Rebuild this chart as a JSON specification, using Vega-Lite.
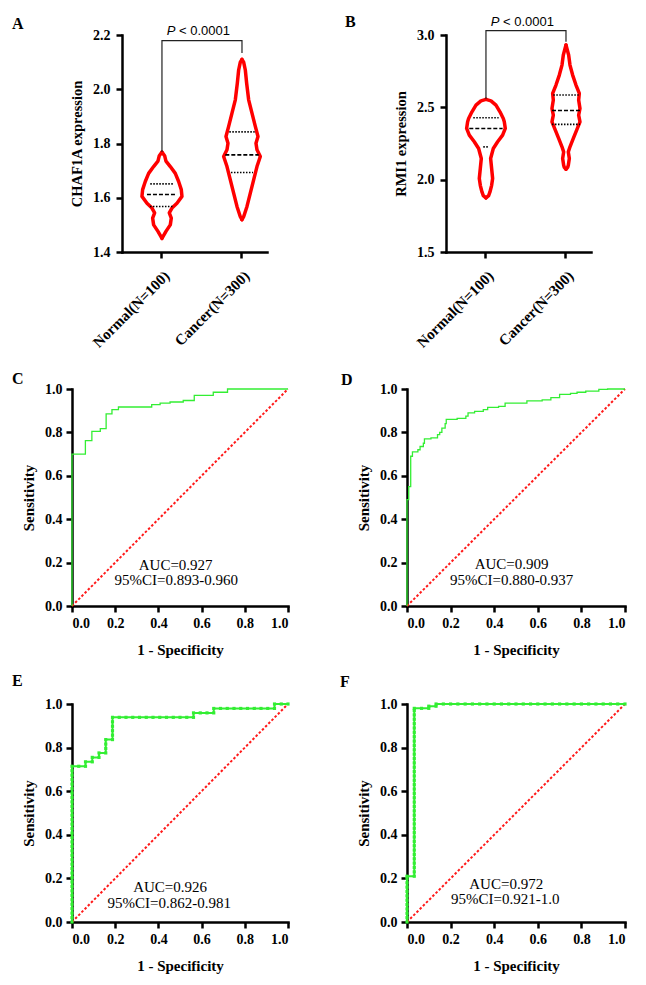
{
  "$schema": "https://vega.github.io/schema/vega-lite/v6.json",
  "background": "white",
  "padding": {"left": 12, "top": 14, "right": 5, "bottom": 5},
  "datasets": {
    "violin": [
      {"p": "A", "g": "Normal(N=100)", "v": 1.450, "l": 0, "r": 0},
      {"p": "A", "g": "Normal(N=100)", "v": 1.476, "l": -12, "r": 12},
      {"p": "A", "g": "Normal(N=100)", "v": 1.500, "l": -25, "r": 25},
      {"p": "A", "g": "Normal(N=100)", "v": 1.525, "l": -28, "r": 28},
      {"p": "A", "g": "Normal(N=100)", "v": 1.544, "l": -22, "r": 22},
      {"p": "A", "g": "Normal(N=100)", "v": 1.562, "l": -30, "r": 30},
      {"p": "A", "g": "Normal(N=100)", "v": 1.580, "l": -45, "r": 45},
      {"p": "A", "g": "Normal(N=100)", "v": 1.605, "l": -60, "r": 60},
      {"p": "A", "g": "Normal(N=100)", "v": 1.630, "l": -58, "r": 58},
      {"p": "A", "g": "Normal(N=100)", "v": 1.660, "l": -50, "r": 50},
      {"p": "A", "g": "Normal(N=100)", "v": 1.690, "l": -40, "r": 40},
      {"p": "A", "g": "Normal(N=100)", "v": 1.715, "l": -25, "r": 25},
      {"p": "A", "g": "Normal(N=100)", "v": 1.735, "l": -12, "r": 12},
      {"p": "A", "g": "Normal(N=100)", "v": 1.755, "l": -8, "r": 8},
      {"p": "A", "g": "Normal(N=100)", "v": 1.768, "l": 0, "r": 0},
      {"p": "A", "g": "Cancer(N=300)", "v": 1.519, "l": 0, "r": 0},
      {"p": "A", "g": "Cancer(N=300)", "v": 1.530, "l": -5, "r": 5},
      {"p": "A", "g": "Cancer(N=300)", "v": 1.568, "l": -15, "r": 15},
      {"p": "A", "g": "Cancer(N=300)", "v": 1.617, "l": -25, "r": 25},
      {"p": "A", "g": "Cancer(N=300)", "v": 1.666, "l": -35, "r": 35},
      {"p": "A", "g": "Cancer(N=300)", "v": 1.715, "l": -45, "r": 45},
      {"p": "A", "g": "Cancer(N=300)", "v": 1.752, "l": -55, "r": 55},
      {"p": "A", "g": "Cancer(N=300)", "v": 1.777, "l": -45, "r": 45},
      {"p": "A", "g": "Cancer(N=300)", "v": 1.801, "l": -42, "r": 42},
      {"p": "A", "g": "Cancer(N=300)", "v": 1.826, "l": -48, "r": 48},
      {"p": "A", "g": "Cancer(N=300)", "v": 1.863, "l": -40, "r": 40},
      {"p": "A", "g": "Cancer(N=300)", "v": 1.912, "l": -30, "r": 30},
      {"p": "A", "g": "Cancer(N=300)", "v": 1.961, "l": -20, "r": 20},
      {"p": "A", "g": "Cancer(N=300)", "v": 2.022, "l": -14, "r": 14},
      {"p": "A", "g": "Cancer(N=300)", "v": 2.071, "l": -10, "r": 10},
      {"p": "A", "g": "Cancer(N=300)", "v": 2.100, "l": -5, "r": 5},
      {"p": "A", "g": "Cancer(N=300)", "v": 2.110, "l": 0, "r": 0},
      {"p": "B", "g": "Normal(N=100)", "v": 1.874, "l": 0, "r": 0},
      {"p": "B", "g": "Normal(N=100)", "v": 1.890, "l": -8, "r": 8},
      {"p": "B", "g": "Normal(N=100)", "v": 1.915, "l": -12, "r": 12},
      {"p": "B", "g": "Normal(N=100)", "v": 1.961, "l": -17, "r": 17},
      {"p": "B", "g": "Normal(N=100)", "v": 2.008, "l": -20, "r": 20},
      {"p": "B", "g": "Normal(N=100)", "v": 2.077, "l": -17, "r": 17},
      {"p": "B", "g": "Normal(N=100)", "v": 2.146, "l": -14, "r": 14},
      {"p": "B", "g": "Normal(N=100)", "v": 2.215, "l": -22, "r": 22},
      {"p": "B", "g": "Normal(N=100)", "v": 2.262, "l": -35, "r": 35},
      {"p": "B", "g": "Normal(N=100)", "v": 2.308, "l": -50, "r": 50},
      {"p": "B", "g": "Normal(N=100)", "v": 2.354, "l": -58, "r": 58},
      {"p": "B", "g": "Normal(N=100)", "v": 2.400, "l": -55, "r": 55},
      {"p": "B", "g": "Normal(N=100)", "v": 2.423, "l": -52, "r": 52},
      {"p": "B", "g": "Normal(N=100)", "v": 2.469, "l": -42, "r": 42},
      {"p": "B", "g": "Normal(N=100)", "v": 2.515, "l": -30, "r": 30},
      {"p": "B", "g": "Normal(N=100)", "v": 2.545, "l": -15, "r": 15},
      {"p": "B", "g": "Normal(N=100)", "v": 2.555, "l": 0, "r": 0},
      {"p": "B", "g": "Cancer(N=300)", "v": 2.072, "l": 0, "r": 0},
      {"p": "B", "g": "Cancer(N=300)", "v": 2.085, "l": -5, "r": 5},
      {"p": "B", "g": "Cancer(N=300)", "v": 2.100, "l": -7, "r": 7},
      {"p": "B", "g": "Cancer(N=300)", "v": 2.146, "l": -10, "r": 10},
      {"p": "B", "g": "Cancer(N=300)", "v": 2.192, "l": -7, "r": 7},
      {"p": "B", "g": "Cancer(N=300)", "v": 2.227, "l": -12, "r": 12},
      {"p": "B", "g": "Cancer(N=300)", "v": 2.285, "l": -22, "r": 22},
      {"p": "B", "g": "Cancer(N=300)", "v": 2.342, "l": -32, "r": 32},
      {"p": "B", "g": "Cancer(N=300)", "v": 2.400, "l": -42, "r": 42},
      {"p": "B", "g": "Cancer(N=300)", "v": 2.446, "l": -38, "r": 38},
      {"p": "B", "g": "Cancer(N=300)", "v": 2.492, "l": -42, "r": 42},
      {"p": "B", "g": "Cancer(N=300)", "v": 2.550, "l": -38, "r": 38},
      {"p": "B", "g": "Cancer(N=300)", "v": 2.596, "l": -40, "r": 40},
      {"p": "B", "g": "Cancer(N=300)", "v": 2.654, "l": -30, "r": 30},
      {"p": "B", "g": "Cancer(N=300)", "v": 2.723, "l": -20, "r": 20},
      {"p": "B", "g": "Cancer(N=300)", "v": 2.792, "l": -12, "r": 12},
      {"p": "B", "g": "Cancer(N=300)", "v": 2.862, "l": -8, "r": 8},
      {"p": "B", "g": "Cancer(N=300)", "v": 2.931, "l": 0, "r": 0}
    ],
    "quart": [
      {"p": "A", "g": "Normal(N=100)", "q": "q3", "v": 1.651, "l": -35, "r": 35},
      {"p": "A", "g": "Normal(N=100)", "q": "med", "v": 1.612, "l": -45, "r": 45},
      {"p": "A", "g": "Normal(N=100)", "q": "q1", "v": 1.568, "l": -36, "r": 36},
      {"p": "A", "g": "Cancer(N=300)", "q": "q3", "v": 1.843, "l": -38, "r": 38},
      {"p": "A", "g": "Cancer(N=300)", "q": "med", "v": 1.758, "l": -50, "r": 50},
      {"p": "A", "g": "Cancer(N=300)", "q": "q1", "v": 1.693, "l": -33, "r": 33},
      {"p": "B", "g": "Normal(N=100)", "q": "q3", "v": 2.428, "l": -38, "r": 38},
      {"p": "B", "g": "Normal(N=100)", "q": "med", "v": 2.354, "l": -50, "r": 50},
      {"p": "B", "g": "Normal(N=100)", "q": "q1", "v": 2.227, "l": -8, "r": 8},
      {"p": "B", "g": "Cancer(N=300)", "q": "q3", "v": 2.585, "l": -38, "r": 38},
      {"p": "B", "g": "Cancer(N=300)", "q": "med", "v": 2.478, "l": -42, "r": 42},
      {"p": "B", "g": "Cancer(N=300)", "q": "q1", "v": 2.382, "l": -42, "r": 42}
    ],
    "bracket": [
      {"p": "A", "g": "Normal(N=100)", "v": 1.769, "o": 1},
      {"p": "A", "g": "Normal(N=100)", "v": 2.179, "o": 2},
      {"p": "A", "g": "Cancer(N=300)", "v": 2.179, "o": 3},
      {"p": "A", "g": "Cancer(N=300)", "v": 2.134, "o": 4},
      {"p": "B", "g": "Normal(N=100)", "v": 2.557, "o": 1},
      {"p": "B", "g": "Normal(N=100)", "v": 3.030, "o": 2},
      {"p": "B", "g": "Cancer(N=300)", "v": 3.030, "o": 3},
      {"p": "B", "g": "Cancer(N=300)", "v": 2.954, "o": 4}
    ],
    "ptext": [
      {"p": "A", "g": "Normal(N=100)", "v": 2.2, "t1": "P", "t2": "< 0.0001"},
      {"p": "B", "g": "Normal(N=100)", "v": 3.062, "t1": "P", "t2": "< 0.0001"}
    ],
    "diag": [
      {"x": 0, "y": 0},
      {"x": 1, "y": 1}
    ],
    "auc": [
      {"p": "C", "x": 0.48, "y": 0.166, "t": "AUC=0.927"},
      {"p": "C", "x": 0.483, "y": 0.097, "t": "95%CI=0.893-0.960"},
      {"p": "D", "x": 0.48, "y": 0.169, "t": "AUC=0.909"},
      {"p": "D", "x": 0.48, "y": 0.097, "t": "95%CI=0.880-0.937"},
      {"p": "E", "x": 0.454, "y": 0.138, "t": "AUC=0.926"},
      {"p": "E", "x": 0.45, "y": 0.066, "t": "95%CI=0.862-0.981"},
      {"p": "F", "x": 0.455, "y": 0.153, "t": "AUC=0.972"},
      {"p": "F", "x": 0.451, "y": 0.081, "t": "95%CI=0.921-1.0"}
    ],
    "roc": [
      {"p": "C", "x": 0, "y": 0},
      {"p": "C", "x": 0, "y": 0.70},
      {"p": "C", "x": 0.062, "y": 0.762},
      {"p": "C", "x": 0.092, "y": 0.805},
      {"p": "C", "x": 0.131, "y": 0.817},
      {"p": "C", "x": 0.158, "y": 0.885},
      {"p": "C", "x": 0.185, "y": 0.905},
      {"p": "C", "x": 0.215, "y": 0.917},
      {"p": "C", "x": 0.369, "y": 0.928},
      {"p": "C", "x": 0.408, "y": 0.935},
      {"p": "C", "x": 0.454, "y": 0.940},
      {"p": "C", "x": 0.515, "y": 0.947},
      {"p": "C", "x": 0.566, "y": 0.971},
      {"p": "C", "x": 0.654, "y": 0.985},
      {"p": "C", "x": 0.72, "y": 1.0},
      {"p": "C", "x": 1.0, "y": 1.0},
      {"p": "D", "x": 0, "y": 0},
      {"p": "D", "x": 0, "y": 0.49},
      {"p": "D", "x": 0.008, "y": 0.55},
      {"p": "D", "x": 0.017, "y": 0.69},
      {"p": "D", "x": 0.025, "y": 0.71},
      {"p": "D", "x": 0.05, "y": 0.72},
      {"p": "D", "x": 0.06, "y": 0.735},
      {"p": "D", "x": 0.075, "y": 0.75},
      {"p": "D", "x": 0.08, "y": 0.77},
      {"p": "D", "x": 0.11, "y": 0.775},
      {"p": "D", "x": 0.14, "y": 0.79},
      {"p": "D", "x": 0.15, "y": 0.80},
      {"p": "D", "x": 0.16, "y": 0.82},
      {"p": "D", "x": 0.175, "y": 0.84},
      {"p": "D", "x": 0.18, "y": 0.86},
      {"p": "D", "x": 0.23, "y": 0.865},
      {"p": "D", "x": 0.27, "y": 0.875},
      {"p": "D", "x": 0.28, "y": 0.89},
      {"p": "D", "x": 0.31, "y": 0.897},
      {"p": "D", "x": 0.35, "y": 0.905},
      {"p": "D", "x": 0.37, "y": 0.915},
      {"p": "D", "x": 0.42, "y": 0.92},
      {"p": "D", "x": 0.45, "y": 0.935},
      {"p": "D", "x": 0.55, "y": 0.945},
      {"p": "D", "x": 0.62, "y": 0.95},
      {"p": "D", "x": 0.66, "y": 0.96},
      {"p": "D", "x": 0.70, "y": 0.975},
      {"p": "D", "x": 0.75, "y": 0.98},
      {"p": "D", "x": 0.78, "y": 0.985},
      {"p": "D", "x": 0.82, "y": 0.99},
      {"p": "D", "x": 0.88, "y": 0.998},
      {"p": "D", "x": 0.92, "y": 1.0},
      {"p": "D", "x": 1.0, "y": 1.0},
      {"p": "E", "x": 0, "y": 0},
      {"p": "E", "x": 0, "y": 0.0204},
      {"p": "E", "x": 0, "y": 0.0408},
      {"p": "E", "x": 0, "y": 0.0612},
      {"p": "E", "x": 0, "y": 0.0816},
      {"p": "E", "x": 0, "y": 0.102},
      {"p": "E", "x": 0, "y": 0.1224},
      {"p": "E", "x": 0, "y": 0.1429},
      {"p": "E", "x": 0, "y": 0.1633},
      {"p": "E", "x": 0, "y": 0.1837},
      {"p": "E", "x": 0, "y": 0.2041},
      {"p": "E", "x": 0, "y": 0.2245},
      {"p": "E", "x": 0, "y": 0.2449},
      {"p": "E", "x": 0, "y": 0.2653},
      {"p": "E", "x": 0, "y": 0.2857},
      {"p": "E", "x": 0, "y": 0.3061},
      {"p": "E", "x": 0, "y": 0.3265},
      {"p": "E", "x": 0, "y": 0.3469},
      {"p": "E", "x": 0, "y": 0.3673},
      {"p": "E", "x": 0, "y": 0.3878},
      {"p": "E", "x": 0, "y": 0.4082},
      {"p": "E", "x": 0, "y": 0.4286},
      {"p": "E", "x": 0, "y": 0.449},
      {"p": "E", "x": 0, "y": 0.4694},
      {"p": "E", "x": 0, "y": 0.4898},
      {"p": "E", "x": 0, "y": 0.5102},
      {"p": "E", "x": 0, "y": 0.5306},
      {"p": "E", "x": 0, "y": 0.551},
      {"p": "E", "x": 0, "y": 0.5714},
      {"p": "E", "x": 0, "y": 0.5918},
      {"p": "E", "x": 0, "y": 0.6122},
      {"p": "E", "x": 0, "y": 0.6327},
      {"p": "E", "x": 0, "y": 0.6531},
      {"p": "E", "x": 0, "y": 0.6735},
      {"p": "E", "x": 0, "y": 0.6939},
      {"p": "E", "x": 0, "y": 0.7143},
      {"p": "E", "x": 0.0313, "y": 0.7143},
      {"p": "E", "x": 0.0625, "y": 0.7143},
      {"p": "E", "x": 0.0625, "y": 0.7347},
      {"p": "E", "x": 0.0938, "y": 0.7347},
      {"p": "E", "x": 0.0938, "y": 0.7551},
      {"p": "E", "x": 0.125, "y": 0.7551},
      {"p": "E", "x": 0.125, "y": 0.7755},
      {"p": "E", "x": 0.1563, "y": 0.7755},
      {"p": "E", "x": 0.1563, "y": 0.7959},
      {"p": "E", "x": 0.1563, "y": 0.8163},
      {"p": "E", "x": 0.1563, "y": 0.8367},
      {"p": "E", "x": 0.1875, "y": 0.8367},
      {"p": "E", "x": 0.1875, "y": 0.8571},
      {"p": "E", "x": 0.1875, "y": 0.8776},
      {"p": "E", "x": 0.1875, "y": 0.898},
      {"p": "E", "x": 0.1875, "y": 0.9184},
      {"p": "E", "x": 0.1875, "y": 0.9388},
      {"p": "E", "x": 0.2188, "y": 0.9388},
      {"p": "E", "x": 0.25, "y": 0.9388},
      {"p": "E", "x": 0.2813, "y": 0.9388},
      {"p": "E", "x": 0.3125, "y": 0.9388},
      {"p": "E", "x": 0.3438, "y": 0.9388},
      {"p": "E", "x": 0.375, "y": 0.9388},
      {"p": "E", "x": 0.4063, "y": 0.9388},
      {"p": "E", "x": 0.4375, "y": 0.9388},
      {"p": "E", "x": 0.4688, "y": 0.9388},
      {"p": "E", "x": 0.5, "y": 0.9388},
      {"p": "E", "x": 0.5313, "y": 0.9388},
      {"p": "E", "x": 0.5625, "y": 0.9388},
      {"p": "E", "x": 0.5625, "y": 0.9592},
      {"p": "E", "x": 0.5938, "y": 0.9592},
      {"p": "E", "x": 0.625, "y": 0.9592},
      {"p": "E", "x": 0.6563, "y": 0.9592},
      {"p": "E", "x": 0.6563, "y": 0.9796},
      {"p": "E", "x": 0.6875, "y": 0.9796},
      {"p": "E", "x": 0.7188, "y": 0.9796},
      {"p": "E", "x": 0.75, "y": 0.9796},
      {"p": "E", "x": 0.7813, "y": 0.9796},
      {"p": "E", "x": 0.8125, "y": 0.9796},
      {"p": "E", "x": 0.8438, "y": 0.9796},
      {"p": "E", "x": 0.875, "y": 0.9796},
      {"p": "E", "x": 0.9063, "y": 0.9796},
      {"p": "E", "x": 0.9375, "y": 0.9796},
      {"p": "E", "x": 0.9375, "y": 1.0},
      {"p": "E", "x": 0.9688, "y": 1.0},
      {"p": "E", "x": 1.0, "y": 1.0},
      {"p": "F", "x": 0, "y": 0},
      {"p": "F", "x": 0, "y": 0.02},
      {"p": "F", "x": 0, "y": 0.04},
      {"p": "F", "x": 0, "y": 0.06},
      {"p": "F", "x": 0, "y": 0.08},
      {"p": "F", "x": 0, "y": 0.10},
      {"p": "F", "x": 0, "y": 0.12},
      {"p": "F", "x": 0, "y": 0.14},
      {"p": "F", "x": 0, "y": 0.16},
      {"p": "F", "x": 0, "y": 0.18},
      {"p": "F", "x": 0, "y": 0.20},
      {"p": "F", "x": 0, "y": 0.21},
      {"p": "F", "x": 0.0333, "y": 0.21},
      {"p": "F", "x": 0.0333, "y": 0.23},
      {"p": "F", "x": 0.0333, "y": 0.25},
      {"p": "F", "x": 0.0333, "y": 0.27},
      {"p": "F", "x": 0.0333, "y": 0.29},
      {"p": "F", "x": 0.0333, "y": 0.31},
      {"p": "F", "x": 0.0333, "y": 0.33},
      {"p": "F", "x": 0.0333, "y": 0.35},
      {"p": "F", "x": 0.0333, "y": 0.37},
      {"p": "F", "x": 0.0333, "y": 0.39},
      {"p": "F", "x": 0.0333, "y": 0.41},
      {"p": "F", "x": 0.0333, "y": 0.43},
      {"p": "F", "x": 0.0333, "y": 0.45},
      {"p": "F", "x": 0.0333, "y": 0.47},
      {"p": "F", "x": 0.0333, "y": 0.49},
      {"p": "F", "x": 0.0333, "y": 0.51},
      {"p": "F", "x": 0.0333, "y": 0.53},
      {"p": "F", "x": 0.0333, "y": 0.55},
      {"p": "F", "x": 0.0333, "y": 0.57},
      {"p": "F", "x": 0.0333, "y": 0.59},
      {"p": "F", "x": 0.0333, "y": 0.61},
      {"p": "F", "x": 0.0333, "y": 0.63},
      {"p": "F", "x": 0.0333, "y": 0.65},
      {"p": "F", "x": 0.0333, "y": 0.67},
      {"p": "F", "x": 0.0333, "y": 0.69},
      {"p": "F", "x": 0.0333, "y": 0.71},
      {"p": "F", "x": 0.0333, "y": 0.73},
      {"p": "F", "x": 0.0333, "y": 0.75},
      {"p": "F", "x": 0.0333, "y": 0.77},
      {"p": "F", "x": 0.0333, "y": 0.79},
      {"p": "F", "x": 0.0333, "y": 0.81},
      {"p": "F", "x": 0.0333, "y": 0.83},
      {"p": "F", "x": 0.0333, "y": 0.85},
      {"p": "F", "x": 0.0333, "y": 0.87},
      {"p": "F", "x": 0.0333, "y": 0.89},
      {"p": "F", "x": 0.0333, "y": 0.91},
      {"p": "F", "x": 0.0333, "y": 0.93},
      {"p": "F", "x": 0.0333, "y": 0.95},
      {"p": "F", "x": 0.0333, "y": 0.97},
      {"p": "F", "x": 0.0333, "y": 0.98},
      {"p": "F", "x": 0.0667, "y": 0.98},
      {"p": "F", "x": 0.1, "y": 0.98},
      {"p": "F", "x": 0.1, "y": 0.99},
      {"p": "F", "x": 0.1333, "y": 0.99},
      {"p": "F", "x": 0.1333, "y": 1.0},
      {"p": "F", "x": 0.1667, "y": 1.0},
      {"p": "F", "x": 0.2, "y": 1.0},
      {"p": "F", "x": 0.2333, "y": 1.0},
      {"p": "F", "x": 0.2667, "y": 1.0},
      {"p": "F", "x": 0.3, "y": 1.0},
      {"p": "F", "x": 0.3333, "y": 1.0},
      {"p": "F", "x": 0.3667, "y": 1.0},
      {"p": "F", "x": 0.4, "y": 1.0},
      {"p": "F", "x": 0.4333, "y": 1.0},
      {"p": "F", "x": 0.4667, "y": 1.0},
      {"p": "F", "x": 0.5, "y": 1.0},
      {"p": "F", "x": 0.5333, "y": 1.0},
      {"p": "F", "x": 0.5667, "y": 1.0},
      {"p": "F", "x": 0.6, "y": 1.0},
      {"p": "F", "x": 0.6333, "y": 1.0},
      {"p": "F", "x": 0.6667, "y": 1.0},
      {"p": "F", "x": 0.7, "y": 1.0},
      {"p": "F", "x": 0.7333, "y": 1.0},
      {"p": "F", "x": 0.7667, "y": 1.0},
      {"p": "F", "x": 0.8, "y": 1.0},
      {"p": "F", "x": 0.8333, "y": 1.0},
      {"p": "F", "x": 0.8667, "y": 1.0},
      {"p": "F", "x": 0.9, "y": 1.0},
      {"p": "F", "x": 0.9333, "y": 1.0},
      {"p": "F", "x": 0.9667, "y": 1.0},
      {"p": "F", "x": 1.0, "y": 1.0}
    ]
  },
  "spacing": 20,
  "bounds": "full",
  "vconcat": [
    {
      "spacing": 0,
      "bounds": "flush",
      "hconcat": [
        {"width": 50, "height": 1, "data": {"values": []}, "mark": "point"},
        {
          "spacing": 179,
          "bounds": "flush",
          "hconcat": [
            {
              "width": 145,
              "height": 217,
              "title": {"text": "A", "dx": -110, "offset": -7},
              "layer": [
                {
                  "data": {"name": "violin"},
                  "transform": [{"filter": "datum.p == 'A'"}, {"fold": ["l", "r"], "as": ["side", "off"]}],
                  "mark": {"type": "line", "color": "#ff0000", "strokeWidth": 3.5, "strokeJoin": "round", "strokeCap": "round"},
                  "encoding": {
                    "x": {"field": "g", "type": "nominal", "scale": {"type": "band", "domain": ["Normal(N=100)", "Cancer(N=300)"], "paddingInner": 1, "paddingOuter": 0.406, "align": 0.615}, "axis": {"title": null, "labelAngle": -45, "labelFontSize": 15, "labelPadding": 10}},
                    "y": {"field": "v", "type": "quantitative", "scale": {"domain": [1.4, 2.2], "nice": false, "zero": false}, "axis": {"title": "CHAF1A expression", "titleFontSize": 14.5, "values": [1.4, 1.6, 1.8, 2.0, 2.2], "format": ".1f", "labelPadding": 6, "titlePadding": 8}},
                    "xOffset": {"field": "off", "type": "quantitative", "scale": {"domain": [-60, 60], "range": [-20, 20]}},
                    "detail": [{"field": "g"}, {"field": "side"}],
                    "order": {"field": "v", "type": "quantitative"}
                  }
                },
                {
                  "data": {"name": "quart"},
                  "transform": [{"filter": "datum.p == 'A'"}, {"fold": ["l", "r"], "as": ["side", "off"]}],
                  "mark": {"type": "line", "color": "#000000", "strokeWidth": 1.6},
                  "encoding": {
                    "x": {"field": "g", "type": "nominal"},
                    "y": {"field": "v", "type": "quantitative"},
                    "xOffset": {"field": "off", "type": "quantitative", "scale": {"domain": [-60, 60], "range": [-20, 20]}},
                    "strokeDash": {"field": "q", "type": "nominal", "scale": {"domain": ["q1", "med", "q3"], "range": [[1.5, 1.5], [4, 2], [1.5, 1.5]]}, "legend": null},
                    "detail": [{"field": "g"}, {"field": "q"}],
                    "order": {"field": "off", "type": "quantitative"}
                  }
                },
                {
                  "data": {"name": "bracket"},
                  "transform": [{"filter": "datum.p == 'A'"}],
                  "mark": {"type": "line", "color": "#222222", "strokeWidth": 1.2},
                  "encoding": {
                    "x": {"field": "g", "type": "nominal"},
                    "y": {"field": "v", "type": "quantitative"},
                    "order": {"field": "o", "type": "quantitative"}
                  }
                },
                {
                  "data": {"name": "ptext"},
                  "transform": [{"filter": "datum.p == 'A'"}],
                  "mark": {"type": "text", "font": "Liberation Sans", "fontStyle": "italic", "fontSize": 13, "dx": 9, "align": "center", "baseline": "alphabetic"},
                  "encoding": {"x": {"field": "g", "type": "nominal"}, "y": {"field": "v", "type": "quantitative"}, "text": {"field": "t1"}}
                },
                {
                  "data": {"name": "ptext"},
                  "transform": [{"filter": "datum.p == 'A'"}],
                  "mark": {"type": "text", "font": "Liberation Sans", "fontSize": 13, "dx": 17, "align": "left", "baseline": "alphabetic"},
                  "encoding": {"x": {"field": "g", "type": "nominal"}, "y": {"field": "v", "type": "quantitative"}, "text": {"field": "t2"}}
                }
              ]
            },
            {
              "width": 145,
              "height": 217,
              "title": {"text": "B", "dx": -101, "offset": -14},
              "layer": [
                {
                  "data": {"name": "violin"},
                  "transform": [{"filter": "datum.p == 'B'"}, {"fold": ["l", "r"], "as": ["side", "off"]}],
                  "mark": {"type": "line", "color": "#ff0000", "strokeWidth": 3.5, "strokeJoin": "round", "strokeCap": "round"},
                  "encoding": {
                    "x": {"field": "g", "type": "nominal", "scale": {"type": "band", "domain": ["Normal(N=100)", "Cancer(N=300)"], "paddingInner": 1, "paddingOuter": 0.406, "align": 0.615}, "axis": {"title": null, "labelAngle": -45, "labelFontSize": 15, "labelPadding": 10}},
                    "y": {"field": "v", "type": "quantitative", "scale": {"domain": [1.5, 3.0], "nice": false, "zero": false}, "axis": {"title": "RMI1 expression", "titleFontSize": 14.5, "values": [1.5, 2.0, 2.5, 3.0], "format": ".1f", "labelPadding": 6, "titlePadding": 8}},
                    "xOffset": {"field": "off", "type": "quantitative", "scale": {"domain": [-60, 60], "range": [-20, 20]}},
                    "detail": [{"field": "g"}, {"field": "side"}],
                    "order": {"field": "v", "type": "quantitative"}
                  }
                },
                {
                  "data": {"name": "quart"},
                  "transform": [{"filter": "datum.p == 'B'"}, {"fold": ["l", "r"], "as": ["side", "off"]}],
                  "mark": {"type": "line", "color": "#000000", "strokeWidth": 1.6},
                  "encoding": {
                    "x": {"field": "g", "type": "nominal"},
                    "y": {"field": "v", "type": "quantitative"},
                    "xOffset": {"field": "off", "type": "quantitative", "scale": {"domain": [-60, 60], "range": [-20, 20]}},
                    "strokeDash": {"field": "q", "type": "nominal", "scale": {"domain": ["q1", "med", "q3"], "range": [[1.5, 1.5], [4, 2], [1.5, 1.5]]}, "legend": null},
                    "detail": [{"field": "g"}, {"field": "q"}],
                    "order": {"field": "off", "type": "quantitative"}
                  }
                },
                {
                  "data": {"name": "bracket"},
                  "transform": [{"filter": "datum.p == 'B'"}],
                  "mark": {"type": "line", "color": "#222222", "strokeWidth": 1.2},
                  "encoding": {
                    "x": {"field": "g", "type": "nominal"},
                    "y": {"field": "v", "type": "quantitative"},
                    "order": {"field": "o", "type": "quantitative"}
                  }
                },
                {
                  "data": {"name": "ptext"},
                  "transform": [{"filter": "datum.p == 'B'"}],
                  "mark": {"type": "text", "font": "Liberation Sans", "fontStyle": "italic", "fontSize": 13, "dx": 9, "align": "center", "baseline": "alphabetic"},
                  "encoding": {"x": {"field": "g", "type": "nominal"}, "y": {"field": "v", "type": "quantitative"}, "text": {"field": "t1"}}
                },
                {
                  "data": {"name": "ptext"},
                  "transform": [{"filter": "datum.p == 'B'"}],
                  "mark": {"type": "text", "font": "Liberation Sans", "fontSize": 13, "dx": 17, "align": "left", "baseline": "alphabetic"},
                  "encoding": {"x": {"field": "g", "type": "nominal"}, "y": {"field": "v", "type": "quantitative"}, "text": {"field": "t2"}}
                }
              ]
            }
          ]
        }
      ]
    },
    {
      "spacing": 16,
      "bounds": "full",
      "vconcat": [
        {
          "spacing": 119,
          "bounds": "flush",
          "hconcat": [
            {
              "width": 216,
              "height": 217,
              "title": {"text": "C", "dx": -60, "offset": -5},
              "layer": [
                {
                  "data": {"name": "diag"},
                  "mark": {"type": "line", "color": "#ff1a1a", "strokeWidth": 2, "strokeDash": [2.5, 2]},
                  "encoding": {
                    "x": {"field": "x", "type": "quantitative", "scale": {"domain": [0, 1], "nice": false}, "axis": {"title": "1 - Specificity", "values": [0, 0.2, 0.4, 0.6, 0.8, 1.0], "format": ".1f", "titlePadding": 12}},
                    "y": {"field": "y", "type": "quantitative", "scale": {"domain": [0, 1], "nice": false}, "axis": {"title": "Sensitivity", "values": [0, 0.2, 0.4, 0.6, 0.8, 1.0], "format": ".1f", "titlePadding": 8}}
                  }
                },
                {
                  "data": {"name": "roc"},
                  "transform": [{"filter": "datum.p == 'C'"}],
                  "mark": {"type": "line", "color": "#33ee33", "strokeWidth": 1.3, "interpolate": "step-after"},
                  "encoding": {
                    "x": {"field": "x", "type": "quantitative"},
                    "y": {"field": "y", "type": "quantitative"},
                    "order": [{"field": "x", "type": "quantitative"}, {"field": "y", "type": "quantitative"}]
                  }
                },
                {
                  "data": {"name": "auc"},
                  "transform": [{"filter": "datum.p == 'C'"}],
                  "mark": {"type": "text", "font": "Liberation Serif", "fontSize": 15, "align": "center", "baseline": "alphabetic", "color": "#000000"},
                  "encoding": {"x": {"field": "x", "type": "quantitative"}, "y": {"field": "y", "type": "quantitative"}, "text": {"field": "t"}}
                }
              ]
            },
            {
              "width": 218,
              "height": 217,
              "title": {"text": "D", "dx": -66, "offset": -5.5},
              "layer": [
                {
                  "data": {"name": "diag"},
                  "mark": {"type": "line", "color": "#ff1a1a", "strokeWidth": 2, "strokeDash": [2.5, 2]},
                  "encoding": {
                    "x": {"field": "x", "type": "quantitative", "scale": {"domain": [0, 1], "nice": false}, "axis": {"title": "1 - Specificity", "values": [0, 0.2, 0.4, 0.6, 0.8, 1.0], "format": ".1f", "titlePadding": 12}},
                    "y": {"field": "y", "type": "quantitative", "scale": {"domain": [0, 1], "nice": false}, "axis": {"title": "Sensitivity", "values": [0, 0.2, 0.4, 0.6, 0.8, 1.0], "format": ".1f", "titlePadding": 8}}
                  }
                },
                {
                  "data": {"name": "roc"},
                  "transform": [{"filter": "datum.p == 'D'"}],
                  "mark": {"type": "line", "color": "#33ee33", "strokeWidth": 1.3, "interpolate": "step-after"},
                  "encoding": {
                    "x": {"field": "x", "type": "quantitative"},
                    "y": {"field": "y", "type": "quantitative"},
                    "order": [{"field": "x", "type": "quantitative"}, {"field": "y", "type": "quantitative"}]
                  }
                },
                {
                  "data": {"name": "auc"},
                  "transform": [{"filter": "datum.p == 'D'"}],
                  "mark": {"type": "text", "font": "Liberation Serif", "fontSize": 15, "align": "center", "baseline": "alphabetic", "color": "#000000"},
                  "encoding": {"x": {"field": "x", "type": "quantitative"}, "y": {"field": "y", "type": "quantitative"}, "text": {"field": "t"}}
                }
              ]
            }
          ]
        },
        {
          "spacing": 119,
          "bounds": "flush",
          "hconcat": [
            {
              "width": 216,
              "height": 218,
              "title": {"text": "E", "dx": -60, "offset": 8},
              "layer": [
                {
                  "data": {"name": "diag"},
                  "mark": {"type": "line", "color": "#ff1a1a", "strokeWidth": 2, "strokeDash": [2.5, 2]},
                  "encoding": {
                    "x": {"field": "x", "type": "quantitative", "scale": {"domain": [0, 1], "nice": false}, "axis": {"title": "1 - Specificity", "values": [0, 0.2, 0.4, 0.6, 0.8, 1.0], "format": ".1f", "titlePadding": 12}},
                    "y": {"field": "y", "type": "quantitative", "scale": {"domain": [0, 1], "nice": false}, "axis": {"title": "Sensitivity", "values": [0, 0.2, 0.4, 0.6, 0.8, 1.0], "format": ".1f", "titlePadding": 8}}
                  }
                },
                {
                  "data": {"name": "roc"},
                  "transform": [{"filter": "datum.p == 'E'"}],
                  "mark": {"type": "line", "color": "#33ee33", "strokeWidth": 2, "point": {"filled": true, "shape": "square", "size": 10, "color": "#33ee33"}},
                  "encoding": {
                    "x": {"field": "x", "type": "quantitative"},
                    "y": {"field": "y", "type": "quantitative"},
                    "order": [{"field": "x", "type": "quantitative"}, {"field": "y", "type": "quantitative"}]
                  }
                },
                {
                  "data": {"name": "auc"},
                  "transform": [{"filter": "datum.p == 'E'"}],
                  "mark": {"type": "text", "font": "Liberation Serif", "fontSize": 15, "align": "center", "baseline": "alphabetic", "color": "#000000"},
                  "encoding": {"x": {"field": "x", "type": "quantitative"}, "y": {"field": "y", "type": "quantitative"}, "text": {"field": "t"}}
                }
              ]
            },
            {
              "width": 218,
              "height": 218,
              "title": {"text": "F", "dx": -67, "offset": 7.5},
              "layer": [
                {
                  "data": {"name": "diag"},
                  "mark": {"type": "line", "color": "#ff1a1a", "strokeWidth": 2, "strokeDash": [2.5, 2]},
                  "encoding": {
                    "x": {"field": "x", "type": "quantitative", "scale": {"domain": [0, 1], "nice": false}, "axis": {"title": "1 - Specificity", "values": [0, 0.2, 0.4, 0.6, 0.8, 1.0], "format": ".1f", "titlePadding": 12}},
                    "y": {"field": "y", "type": "quantitative", "scale": {"domain": [0, 1], "nice": false}, "axis": {"title": "Sensitivity", "values": [0, 0.2, 0.4, 0.6, 0.8, 1.0], "format": ".1f", "titlePadding": 8}}
                  }
                },
                {
                  "data": {"name": "roc"},
                  "transform": [{"filter": "datum.p == 'F'"}],
                  "mark": {"type": "line", "color": "#33ee33", "strokeWidth": 2, "point": {"filled": true, "shape": "square", "size": 10, "color": "#33ee33"}},
                  "encoding": {
                    "x": {"field": "x", "type": "quantitative"},
                    "y": {"field": "y", "type": "quantitative"},
                    "order": [{"field": "x", "type": "quantitative"}, {"field": "y", "type": "quantitative"}]
                  }
                },
                {
                  "data": {"name": "auc"},
                  "transform": [{"filter": "datum.p == 'F'"}],
                  "mark": {"type": "text", "font": "Liberation Serif", "fontSize": 15, "align": "center", "baseline": "alphabetic", "color": "#000000"},
                  "encoding": {"x": {"field": "x", "type": "quantitative"}, "y": {"field": "y", "type": "quantitative"}, "text": {"field": "t"}}
                }
              ]
            }
          ]
        }
      ]
    }
  ],
  "config": {
    "view": {"stroke": null},
    "font": "Liberation Serif",
    "axis": {
      "grid": false,
      "domainColor": "#000000",
      "domainWidth": 2.5,
      "domainCap": "square",
      "tickColor": "#000000",
      "tickWidth": 2.5,
      "tickSize": 6,
      "labelFont": "Liberation Serif",
      "labelFontWeight": "bold",
      "labelFontSize": 14,
      "labelColor": "#000000",
      "labelPadding": 4,
      "titleFont": "Liberation Serif",
      "titleFontWeight": "bold",
      "titleFontSize": 15,
      "titleColor": "#000000"
    },
    "title": {"font": "Liberation Serif", "fontWeight": "bold", "fontSize": 16, "anchor": "start", "frame": "group", "color": "#000000", "baseline": "alphabetic"}
  }
}
